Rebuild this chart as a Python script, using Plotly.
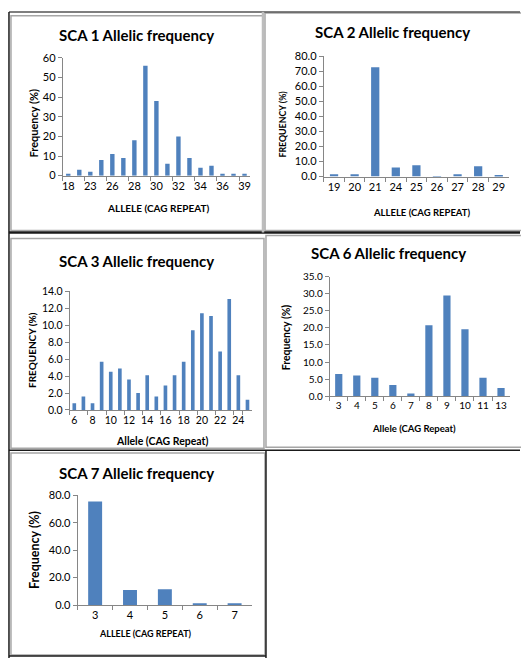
import plotly.graph_objects as go

W, H = 521, 664

# ---------------- data ----------------
sca1_alleles = ["18", "22", "23", "25", "26", "27", "28", "29", "30", "31", "32", "33", "34", "35", "36", "37", "39"]
sca1_freq = [1, 3, 2, 8, 11, 9, 18, 56, 38, 6, 20, 9, 4, 5, 1, 1, 1]
sca1_ticks = ["18", "23", "26", "28", "30", "32", "34", "36", "39"]

sca2_alleles = ["19", "20", "21", "24", "25", "26", "27", "28", "29"]
sca2_freq = [1.5, 1.5, 72.5, 6.0, 7.5, 0.3, 1.5, 6.8, 1.0]

sca3_alleles = ["6", "7", "8", "9", "10", "11", "12", "13", "14", "15",
                "16", "17", "18", "19", "20", "21", "22", "23", "24", "25"]
sca3_freq = [0.8, 1.6, 0.8, 5.7, 4.5, 4.9, 3.6, 2.0, 4.1, 1.6,
             2.9, 4.1, 5.7, 9.4, 11.4, 11.1, 6.9, 13.1, 4.1, 1.2]
sca3_ticks = ["6", "8", "10", "12", "14", "16", "18", "20", "22", "24"]

sca6_alleles = ["3", "4", "5", "6", "7", "8", "9", "10", "11", "13"]
sca6_freq = [6.5, 6.1, 5.4, 3.3, 0.8, 20.8, 29.5, 19.6, 5.4, 2.4]

sca7_alleles = ["3", "4", "5", "6", "7"]
sca7_freq = [75.5, 11.0, 11.5, 0.8, 1.0]

titles = ["SCA 1 Allelic frequency", "SCA 2 Allelic frequency", "SCA 3 Allelic frequency",
          "SCA 6 Allelic frequency", "SCA 7 Allelic frequency"]
xtitles = ["ALLELE (CAG REPEAT)", "ALLELE (CAG REPEAT)", "Allele (CAG Repeat)",
           "Allele (CAG Repeat)", "ALLELE (CAG REPEAT)"]
ytitles = ["Frequency (%)", "FREQUENCY (%)", "FREQUENCY (%)", "Frequency (%)", "Frequency (%)"]

# ---------------- layout geometry (pixels) ----------------
def px(x):
    return x / W

def py(y):
    return 1 - y / H

panels = [
    dict(x=sca1_alleles, y=sca1_freq, ticks=sca1_ticks, xd=(62, 250), yd=(172, 52), rng=(0, 60), dt=10, fmt="d",
         title=(136, 29), xt=(158, 205), yt=(33, 118), tickfs=11, xtfs=10, ytfs=11),
    dict(x=sca2_alleles, y=sca2_freq, ticks=sca2_alleles, xd=(324, 510), yd=(173, 50), rng=(0, 80), dt=10, fmt=".1f",
         title=(393, 26), xt=(422, 210), yt=(283, 119), tickfs=11, xtfs=9.5, ytfs=8.8),
    dict(x=sca3_alleles, y=sca3_freq, ticks=sca3_ticks, xd=(69, 252), yd=(411, 290), rng=(0, 14), dt=2, fmt=".1f",
         title=(136, 259), xt=(162, 443), yt=(31, 350), tickfs=10.5, xtfs=10.5, ytfs=10),
    dict(x=sca6_alleles, y=sca6_freq, ticks=sca6_alleles, xd=(330, 511), yd=(397, 275), rng=(0, 35), dt=5, fmt=".1f",
         title=(389, 251), xt=(415, 430), yt=(287, 337), tickfs=10, xtfs=9.5, ytfs=10.5),
    dict(x=sca7_alleles, y=sca7_freq, ticks=sca7_alleles, xd=(77, 252), yd=(610, 498), rng=(0, 80), dt=20, fmt=".1f",
         title=(136, 475), xt=(145, 639), yt=(33, 554), tickfs=11, xtfs=9, ytfs=12.5),
]

FONT = "Lato"
AXC = "#868686"
BAR = "#4F81BD"

fig = go.Figure()
annotations = []
layout = {}

for i, p in enumerate(panels):
    n = "" if i == 0 else str(i + 1)
    fig.add_trace(go.Bar(x=p["x"], y=p["y"], marker=dict(color=BAR, line=dict(width=0)),
                         xaxis="x" + n, yaxis="y" + n, showlegend=False, hoverinfo="x+y"))
    layout["xaxis" + n] = dict(
        domain=[px(p["xd"][0]), px(p["xd"][1])], anchor="y" + n, type="category",
        categoryorder="array", categoryarray=p["x"],
        tickmode="array", tickvals=p["ticks"], ticktext=p["ticks"], tickangle=0,
        tickson="boundaries", ticks="outside", ticklen=4, tickcolor=AXC,
        showline=True, linecolor=AXC, linewidth=1, showgrid=False, zeroline=False,
        tickfont=dict(family=FONT, size=p["tickfs"], color="#000"), fixedrange=True,
    )
    layout["yaxis" + n] = dict(
        domain=[py(p["yd"][0]), py(p["yd"][1])], anchor="x" + n,
        range=list(p["rng"]), dtick=p["dt"], tick0=0, tickformat=p["fmt"],
        ticks="outside", ticklen=4, tickcolor=AXC, showline=True, linecolor=AXC, linewidth=1,
        showgrid=False, zeroline=False,
        tickfont=dict(family=FONT, size=p["tickfs"], color="#000"), fixedrange=True,
    )
    annotations.append(dict(text="<b>" + titles[i] + "</b>", x=px(p["title"][0]), y=py(p["title"][1]),
                            xref="paper", yref="paper", showarrow=False, xanchor="center", yanchor="middle",
                            font=dict(family=FONT, size=15, color="#000")))
    annotations.append(dict(text="<b>" + xtitles[i] + "</b>", x=px(p["xt"][0]), y=py(p["xt"][1]),
                            xref="paper", yref="paper", showarrow=False, xanchor="center", yanchor="middle",
                            font=dict(family=FONT, size=p["xtfs"], color="#000")))
    annotations.append(dict(text="<b>" + ytitles[i] + "</b>", x=px(p["yt"][0]), y=py(p["yt"][1]),
                            xref="paper", yref="paper", showarrow=False, xanchor="center", yanchor="middle",
                            textangle=-90, font=dict(family=FONT, size=p["ytfs"], color="#000")))

shapes = []

def line(x0, y0, x1, y1, color, width):
    shapes.append(dict(type="line", xref="paper", yref="paper", x0=px(x0), y0=py(y0), x1=px(x1), y1=py(y1),
                       line=dict(color=color, width=width)))

def rect(x0, y0, x1, y1, color, width):
    shapes.append(dict(type="rect", xref="paper", yref="paper", x0=px(x0), y0=py(y0), x1=px(x1), y1=py(y1),
                       line=dict(color=color, width=width), fillcolor="rgba(0,0,0,0)"))

# chart frames (light gray)
FR = "#A6A6A6"
rect(10, 9, 263, 228, FR, 1.5)
rect(265, 6, 523, 228, FR, 1.5)
rect(10, 236, 264, 450, FR, 1.5)
rect(266, 233, 523, 449, FR, 1.5)
rect(10, 455, 265, 661, FR, 1.5)

# table lines (dark)
DK = "#1a1a1a"
line(8, 5, 521, 5, "#555555", 1.5)
line(8, 5, 8, 664, DK, 1.5)
line(8, 230, 521, 230, DK, 2.5)
line(8, 452, 521, 452, DK, 1.5)
line(266, 452, 266, 664, DK, 1.5)
line(8, 662, 266, 662, DK, 1.5)
line(263, 5, 263, 230, "#bdbdbd", 2.5)

fig.update_layout(
    width=W, height=H, margin=dict(l=0, r=0, t=0, b=0),
    paper_bgcolor="white", plot_bgcolor="white",
    bargap=0.6, annotations=annotations, shapes=shapes,
    font=dict(family=FONT, color="#000"),
    **layout,
)

fig.write_html("out.html", post_script="document.body.style.margin='0';",
               config={"displayModeBar": False})
